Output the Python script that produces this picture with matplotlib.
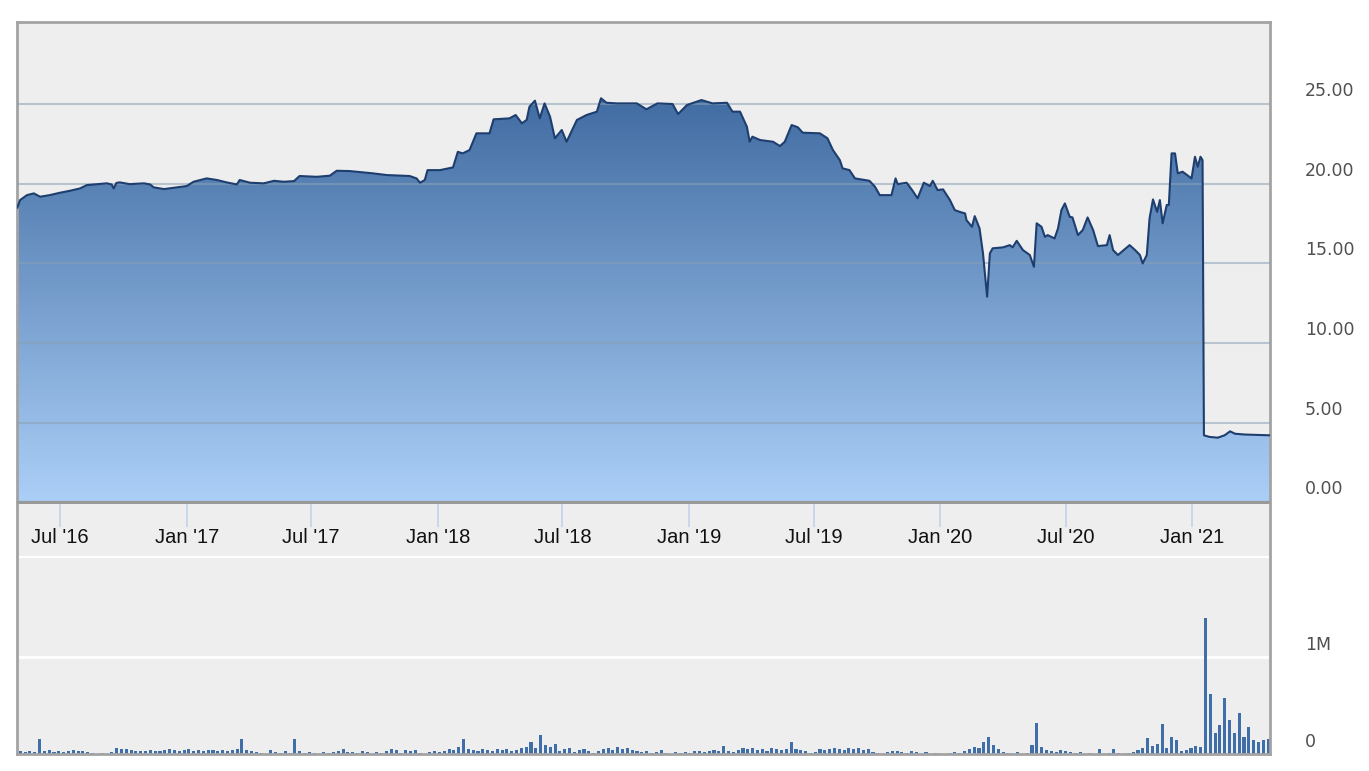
import numpy as np
import pandas as pd
import matplotlib
matplotlib.use('Agg')
import matplotlib.pyplot as plt
import matplotlib.dates as mdates
from matplotlib.colors import LinearSegmentedColormap

# Closing price
price_dates = [
    '2016-04-30', '2016-05-04', '2016-05-14', '2016-05-24', '2016-06-02', '2016-06-16',
    '2016-07-01', '2016-07-15', '2016-07-30', '2016-08-09', '2016-08-24', '2016-09-07',
    '2016-09-14', '2016-09-17', '2016-09-21', '2016-09-26', '2016-10-10', '2016-10-31',
    '2016-11-09', '2016-11-14', '2016-11-29', '2016-12-18', '2017-01-01', '2017-01-11',
    '2017-01-30', '2017-02-14', '2017-02-28', '2017-03-15', '2017-03-19', '2017-04-03',
    '2017-04-23', '2017-05-08', '2017-05-22', '2017-06-06', '2017-06-14', '2017-07-09',
    '2017-07-28', '2017-08-07', '2017-08-26', '2017-09-28', '2017-10-19', '2017-11-21',
    '2017-12-01', '2017-12-06', '2017-12-13', '2017-12-17', '2018-01-04', '2018-01-23',
    '2018-01-30', '2018-02-06', '2018-02-16', '2018-02-26', '2018-03-17', '2018-03-23',
    '2018-04-15', '2018-04-24', '2018-05-03', '2018-05-10', '2018-05-14', '2018-05-22',
    '2018-05-29', '2018-06-05', '2018-06-13', '2018-06-20', '2018-06-30', '2018-07-07',
    '2018-07-22', '2018-08-05', '2018-08-20', '2018-08-26', '2018-09-03', '2018-09-18',
    '2018-10-17', '2018-10-31', '2018-11-16', '2018-12-08', '2018-12-16', '2018-12-29',
    '2019-01-19', '2019-02-04', '2019-02-25', '2019-03-05', '2019-03-16', '2019-03-26',
    '2019-03-30', '2019-04-03', '2019-04-14', '2019-05-03', '2019-05-13', '2019-05-20',
    '2019-05-30', '2019-06-08', '2019-06-15', '2019-07-10', '2019-07-21', '2019-07-29',
    '2019-08-08', '2019-08-12', '2019-08-22', '2019-08-30', '2019-09-20', '2019-09-28',
    '2019-10-05', '2019-10-22', '2019-10-28', '2019-10-31', '2019-11-13', '2019-11-21',
    '2019-11-29', '2019-12-08', '2019-12-17', '2019-12-21', '2019-12-28', '2020-01-05',
    '2020-01-15', '2020-01-22', '2020-01-29', '2020-02-06', '2020-02-08', '2020-02-16',
    '2020-02-20', '2020-02-27', '2020-03-03', '2020-03-09', '2020-03-13', '2020-03-17',
    '2020-04-01', '2020-04-11', '2020-04-15', '2020-04-21', '2020-04-30', '2020-05-10',
    '2020-05-16', '2020-05-20', '2020-05-27', '2020-06-01', '2020-06-05', '2020-06-15',
    '2020-06-20', '2020-06-25', '2020-06-30', '2020-07-07', '2020-07-11', '2020-07-19',
    '2020-07-26', '2020-08-02', '2020-08-10', '2020-08-17', '2020-08-30', '2020-09-03',
    '2020-09-08', '2020-09-15', '2020-09-28', '2020-10-02', '2020-10-10', '2020-10-17',
    '2020-10-21', '2020-10-27', '2020-10-31', '2020-11-05', '2020-11-11', '2020-11-15',
    '2020-11-19', '2020-11-25', '2020-11-28', '2020-12-02', '2020-12-07', '2020-12-11',
    '2020-12-18', '2020-12-31', '2021-01-05', '2021-01-09', '2021-01-13', '2021-01-16',
    '2021-01-18', '2021-01-26', '2021-02-07', '2021-02-17', '2021-02-25', '2021-03-04',
    '2021-03-18', '2021-04-24',
]
price_values = [
    18.50, 18.97, 19.28, 19.39, 19.18, 19.28,
    19.43, 19.55, 19.70, 19.91, 19.97, 20.02,
    19.95, 19.70, 20.05, 20.08, 19.97, 20.02,
    19.95, 19.77, 19.66, 19.77, 19.85, 20.12,
    20.33, 20.23, 20.08, 19.95, 20.23, 20.06,
    20.02, 20.18, 20.12, 20.16, 20.48, 20.43,
    20.50, 20.81, 20.79, 20.65, 20.54, 20.48,
    20.33, 20.06, 20.23, 20.85, 20.85, 21.02,
    22.00, 21.90, 22.11, 23.16, 23.16, 24.04,
    24.10, 24.31, 23.79, 24.00, 24.83, 25.21,
    24.10, 25.04, 24.20, 22.85, 23.37, 22.63,
    24.00, 24.31, 24.52, 25.36, 25.08, 25.04,
    25.04, 24.67, 25.04, 25.00, 24.37, 24.94,
    25.25, 25.04, 25.08, 24.52, 24.52, 23.57,
    22.63, 22.95, 22.74, 22.63, 22.36, 22.63,
    23.68, 23.54, 23.20, 23.16, 22.85, 22.11,
    21.48, 20.96, 20.85, 20.33, 20.18, 19.81,
    19.28, 19.28, 20.33, 19.97, 20.06, 19.60,
    19.08, 20.06, 19.85, 20.18, 19.60, 19.64,
    18.97, 18.34, 18.23, 18.13, 17.71, 17.29,
    17.96, 17.19, 15.62, 12.90, 15.62, 15.94,
    16.00, 16.14, 16.00, 16.41, 15.83, 15.52,
    14.78, 17.51, 17.29, 16.66, 16.77, 16.56,
    17.19, 18.34, 18.76, 17.92, 17.88, 16.77,
    17.09, 17.88, 17.09, 16.08, 16.14, 16.77,
    15.83, 15.52, 16.00, 16.14, 15.83, 15.52,
    14.99, 15.52, 17.82, 19.01, 18.23, 18.97,
    17.51, 18.66, 18.66, 21.90, 21.90, 20.65,
    20.75, 20.33, 21.69, 21.06, 21.69, 21.48,
    4.20, 4.10, 4.05, 4.20, 4.45, 4.30,
    4.25, 4.20,
]

# Weekly volume (millions of shares), first week starting 2016-05-02
vol_start = '2016-05-02'
vol_weekly = [
    0.03, 0.02, 0.03, 0.02, 0.16, 0.03, 0.04, 0.02, 0.03, 0.02,
    0.03, 0.04, 0.03, 0.03, 0.02, 0.01, 0.00, 0.01, 0.00, 0.02,
    0.06, 0.05, 0.05, 0.04, 0.03, 0.03, 0.03, 0.04, 0.03, 0.03,
    0.04, 0.05, 0.04, 0.03, 0.04, 0.05, 0.03, 0.04, 0.03, 0.04,
    0.04, 0.03, 0.04, 0.03, 0.04, 0.05, 0.16, 0.04, 0.03, 0.02,
    0.01, 0.00, 0.04, 0.02, 0.01, 0.03, 0.01, 0.16, 0.03, 0.01,
    0.02, 0.01, 0.00, 0.02, 0.01, 0.02, 0.03, 0.05, 0.02, 0.02,
    0.01, 0.03, 0.02, 0.00, 0.02, 0.01, 0.03, 0.05, 0.04, 0.01,
    0.04, 0.03, 0.04, 0.01, 0.00, 0.02, 0.03, 0.02, 0.03, 0.05,
    0.04, 0.07, 0.16, 0.05, 0.04, 0.03, 0.05, 0.04, 0.03, 0.05,
    0.04, 0.05, 0.03, 0.04, 0.06, 0.07, 0.12, 0.06, 0.20, 0.09,
    0.07, 0.10, 0.03, 0.05, 0.06, 0.02, 0.04, 0.05, 0.03, 0.01,
    0.03, 0.05, 0.06, 0.04, 0.07, 0.05, 0.06, 0.04, 0.03, 0.02,
    0.03, 0.01, 0.02, 0.04, 0.01, 0.00, 0.02, 0.01, 0.02, 0.01,
    0.03, 0.03, 0.02, 0.03, 0.04, 0.03, 0.08, 0.03, 0.02, 0.04,
    0.06, 0.05, 0.06, 0.04, 0.05, 0.03, 0.06, 0.05, 0.04, 0.05,
    0.12, 0.05, 0.04, 0.03, 0.01, 0.02, 0.05, 0.04, 0.05, 0.06,
    0.05, 0.04, 0.06, 0.05, 0.06, 0.04, 0.05, 0.02, 0.01, 0.00,
    0.02, 0.03, 0.03, 0.02, 0.01, 0.03, 0.02, 0.00, 0.02, 0.00,
    0.01, 0.00, 0.00, 0.01, 0.02, 0.01, 0.03, 0.05, 0.07, 0.06,
    0.12, 0.18, 0.09, 0.05, 0.02, 0.01, 0.00, 0.02, 0.00, 0.01,
    0.09, 0.32, 0.07, 0.04, 0.03, 0.02, 0.04, 0.03, 0.02, 0.01,
    0.02, 0.00, 0.01, 0.00, 0.05, 0.00, 0.01, 0.05, 0.01, 0.00,
    0.01, 0.02, 0.04, 0.06, 0.17, 0.08, 0.10, 0.31, 0.06, 0.18,
    0.14, 0.03, 0.04, 0.06, 0.08, 0.07, 1.41, 0.62, 0.22, 0.30,
    0.58, 0.35, 0.22, 0.42, 0.18, 0.28, 0.14, 0.12, 0.14, 0.16,
]

price_ticks = [0, 5, 10, 15, 20, 25]
tick_dates = pd.date_range('2016-07-01', '2021-01-01', freq='6MS')

W, H = 1369, 771
BG = '#eeeeee'
FRAME = '#a3a3a3'
LABEL = '#505050'


def box(x0, y0, x1, y1):
    # pixel box (top-left origin) -> figure fraction rect
    return [x0 / W, 1 - y1 / H, (x1 - x0) / W, (y1 - y0) / H]


fig = plt.figure(figsize=(W / 100, H / 100), dpi=100)
ax = fig.add_axes(box(17, 22, 1270, 503))
ax_lab = fig.add_axes(box(17, 504, 1270, 556))
ax_vol = fig.add_axes(box(17, 558, 1270, 754))

x = mdates.date2num(pd.to_datetime(price_dates))
y = np.array(price_values)
xmin = mdates.date2num(pd.Timestamp('2016-04-29 12:00'))
xmax = mdates.date2num(pd.Timestamp('2021-04-24'))

# price area with vertical gradient
cmap = LinearSegmentedColormap.from_list('fill', ['#abcff7', '#3f6aa0'])
grad = np.linspace(0, 1, 256).reshape(-1, 1)
im = ax.imshow(grad, cmap=cmap, aspect='auto', origin='lower',
               extent=[x[0], x[-1], 0, 26], zorder=1, interpolation='bilinear')
poly = ax.fill_between(x, y, 0, facecolor='none', edgecolor='none')
im.set_clip_path(poly.get_paths()[0], transform=ax.transData)
ax.plot(x, y, color='#1d3e6e', lw=1.5, zorder=4)

for v in price_ticks[1:]:
    ax.axhline(v, color='#8aa2b6', lw=1.5, alpha=0.55, zorder=3)
for v in price_ticks:
    ax.annotate(f'{v:.2f}', xy=(1.0, v), xycoords=('axes fraction', 'data'),
                xytext=(1305 - 1270, 13), textcoords='offset pixels',
                ha='left', va='center', fontsize=12.5, color=LABEL)

ax.set_xlim(xmin, xmax)
ax.set_ylim(-0.05, 30.15)
ax.set_facecolor(BG)
ax.set_xticks([])
ax.set_yticks([])
for side in ['left', 'top', 'right']:
    ax.spines[side].set_color(FRAME)
    ax.spines[side].set_linewidth(2)
ax.spines['bottom'].set_color('#999999')
ax.spines['bottom'].set_linewidth(3)
ax.spines['bottom'].set_capstyle('butt')

# date label strip
ax_lab.set_xlim(xmin, xmax)
ax_lab.set_ylim(0, 1)
ax_lab.set_facecolor(BG)
ax_lab.vlines(mdates.date2num(tick_dates), 0.56, 1, color='#c3d2e8', lw=1.2)
for d in tick_dates:
    ax_lab.text(mdates.date2num(d), 0.36, d.strftime("%b '%y"), ha='center', va='center',
                fontsize=14.5, color='#111111',
                family=['Liberation Sans Narrow', 'Liberation Sans', 'DejaVu Sans'])
ax_lab.set_xticks([])
ax_lab.set_yticks([])
for side in ['top', 'bottom']:
    ax_lab.spines[side].set_visible(False)
for side in ['left', 'right']:
    ax_lab.spines[side].set_color(FRAME)
    ax_lab.spines[side].set_linewidth(2)

# volume
vx = mdates.date2num(pd.date_range(vol_start, periods=len(vol_weekly), freq='7D'))
ax_vol.axhline(1e6, color='white', lw=2, zorder=1)
ax_vol.bar(vx, np.array(vol_weekly) * 1e6, width=4.5, align='edge', color='#3f6ea8',
           edgecolor='none', zorder=2)
ax_vol.set_xlim(xmin, xmax)
ax_vol.set_ylim(0, 2.03e6)
ax_vol.set_facecolor(BG)
ax_vol.set_xticks([])
ax_vol.set_yticks([])
for lab, v in [('1M', 1e6), ('0', 0)]:
    ax_vol.annotate(lab, xy=(1.0, v), xycoords=('axes fraction', 'data'),
                    xytext=(1305 - 1270, 12), textcoords='offset pixels',
                    ha='left', va='center', fontsize=12.5, color=LABEL)
ax_vol.spines['top'].set_visible(False)
for side in ['left', 'right', 'bottom']:
    ax_vol.spines[side].set_color(FRAME)
    ax_vol.spines[side].set_linewidth(2)

fig.savefig('out.png', dpi=100, facecolor='white')
